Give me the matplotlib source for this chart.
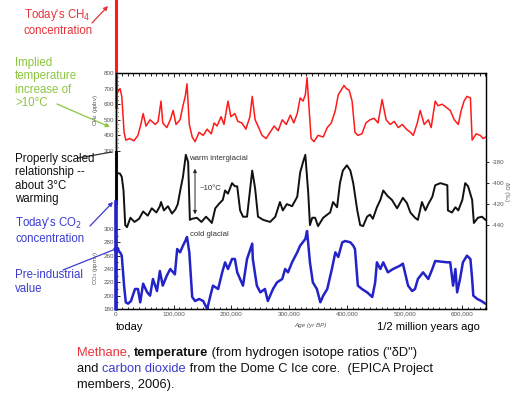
import matplotlib.pyplot as plt
from matplotlib.ticker import FixedLocator, MultipleLocator, FuncFormatter

plt.rcParams['font.family'] = ['Liberation Sans', 'DejaVu Sans']

W, H = 519, 395

# EPICA Dome C, ages in kyr BP
ch4_age = [0, 3, 7, 10, 14, 17, 24, 31, 38, 43, 47, 52, 59, 68, 73, 78, 81, 88, 94, 99,
           104, 111, 116, 120, 123, 127, 132, 137, 144, 151, 158, 165, 170, 175, 182, 187,
           194, 199, 206, 211, 218, 225, 232, 236, 241, 246, 253, 260, 267, 274, 281, 288,
           295, 302, 308, 314, 319, 324, 328, 331, 334, 338, 343, 350, 359, 366, 373, 380,
           385, 390, 395, 399, 404, 409, 414, 419, 426, 433, 440, 447, 454, 461, 468, 475,
           482, 489, 496, 503, 510, 515, 522, 527, 534, 541, 546, 553, 558, 565, 572, 579,
           586, 593, 598, 603, 608, 614, 617, 624, 631, 636, 641]
ch4_ppbv = [690, 680, 700, 650, 420, 370, 380, 365, 400, 470, 540, 460, 500, 470, 490, 620,
            480, 450, 500, 560, 470, 500, 590, 650, 730, 470, 390, 360, 420, 400, 440, 410,
            480, 460, 520, 470, 620, 520, 540, 490, 480, 440, 520, 650, 500, 460, 400, 380,
            420, 460, 430, 500, 470, 530, 480, 540, 640, 620, 660, 770, 600, 380, 360, 400,
            390, 450, 480, 560, 660, 690, 720, 700, 690, 620, 420, 400, 410, 480, 500, 510,
            480, 630, 500, 470, 490, 450, 470, 440, 420, 400, 480, 560, 470, 500, 450, 620,
            590, 600, 580, 560, 500, 470, 560, 620, 650, 640, 370, 410, 400, 380, 390]

dd_age = [0, 7, 10, 13, 16, 19, 25, 32, 40, 47, 55, 62, 70, 76, 78, 83, 90, 97, 103, 107,
          112, 116, 121, 125, 128, 132, 140, 148, 156, 163, 166, 172, 178, 185, 189, 194,
          201, 206, 210, 215, 220, 227, 236, 241, 246, 255, 267, 276, 284, 289, 296, 305,
          314, 319, 324, 328, 333, 336, 340, 345, 350, 359, 366, 371, 376, 383, 388, 393,
          400, 406, 411, 418, 423, 428, 435, 440, 445, 452, 458, 463, 470, 478, 487, 492,
          497, 504, 510, 518, 523, 530, 536, 541, 548, 553, 562, 574, 575, 582, 588, 593,
          600, 605, 610, 617, 620, 627, 634, 640]
dd_permil = [-390, -391, -394, -407, -440, -442, -433, -437, -434, -427, -431, -424, -428,
             -422, -418, -426, -422, -429, -425, -420, -405, -394, -373, -380, -435, -434,
             -433, -437, -432, -436, -438, -424, -420, -416, -407, -410, -400, -403, -403,
             -426, -432, -432, -388, -405, -432, -435, -437, -432, -418, -426, -420, -422,
             -413, -390, -380, -373, -409, -440, -433, -433, -441, -433, -430, -428, -418,
             -423, -400, -388, -383, -388, -400, -426, -440, -441, -432, -430, -434, -423,
             -416, -407, -412, -416, -424, -419, -414, -419, -428, -433, -435, -418, -426,
             -420, -413, -402, -400, -402, -426, -428, -423, -426, -416, -400, -403, -416,
             -438, -433, -432, -435]

co2_age = [0, 3, 7, 10, 14, 17, 21, 26, 29, 33, 38, 42, 47, 54, 59, 64, 71, 76, 81, 88, 94,
           102, 106, 111, 116, 120, 123, 127, 132, 137, 144, 151, 158, 163, 168, 177, 184,
           189, 194, 201, 206, 210, 215, 220, 227, 236, 237, 244, 250, 258, 263, 272, 279,
           288, 293, 298, 305, 314, 319, 328, 331, 336, 341, 348, 354, 359, 366, 374, 380,
           385, 392, 397, 406, 411, 414, 419, 426, 435, 444, 449, 452, 458, 463, 471, 480,
           492, 497, 506, 513, 518, 523, 532, 541, 548, 553, 574, 579, 584, 588, 591, 596,
           601, 608, 614, 617, 619, 626, 633, 640]
co2_ppmv = [270, 268, 265, 260, 215, 190, 188, 192, 200, 210, 210, 190, 218, 205, 200, 225,
            207, 237, 215, 230, 240, 232, 270, 265, 275, 282, 288, 265, 198, 192, 195, 192,
            180, 198, 215, 210, 235, 250, 240, 255, 255, 235, 225, 215, 255, 278, 255, 215,
            205, 210, 192, 210, 220, 225, 240, 235, 250, 265, 275, 285, 297, 250, 220, 210,
            190, 200, 210, 240, 265, 258, 280, 282, 280, 275, 270, 215, 210, 205, 198, 220,
            250, 240, 250, 235, 240, 245, 248, 215, 207, 210, 225, 235, 225, 240, 252, 250,
            250, 215, 240, 205, 225, 250, 260, 255, 225, 200, 195, 192, 188]

# vertical bars drawn at age 0
ch4_today = 1775          # ppbv
ch4_bar_base = 563
dd_implied = (-370, -330)  # green: implied warming
dd_scaled = (-419, -370)   # black: properly scaled warming
co2_today = 340           # ppmv

age_ticks = [0, 100000, 200000, 300000, 400000, 500000, 600000]

RED = '#ff1a1a'
BLACK = '#111111'
BLUE = '#2323c8'
GREEN = '#8cc63f'
TXT_RED = '#e8333a'
TXT_BLUE = '#3b3bd0'
GREY = '#555555'

fig = plt.figure(figsize=(W / 100, H / 100), dpi=100)


def fx(x):
    return x / W


def fy(y):
    return 1 - y / H


x0, x1, y0, y1 = 116, 486, 73, 309
ax = fig.add_axes([fx(x0), fy(y1), (x1 - x0) / W, (y1 - y0) / H])
ax_t = ax.twinx()
ax_c = ax.twinx()

yr = lambda a: [v * 1000 for v in a]
plain = FuncFormatter(lambda v, p: f'{int(v)}')

# methane
ax.plot(yr(ch4_age), ch4_ppbv, color=RED, lw=1.1)
ax.set_xlim(0, 641000)
ax.set_ylim(-713, 800)
ax.set_yticks([300, 400, 500, 600, 700, 800])
ax.yaxis.set_major_formatter(plain)
ax.yaxis.set_minor_locator(FixedLocator(range(300, 801, 25)))
ax.tick_params(axis='y', which='both', direction='in', labelsize=4.5, labelcolor=GREY,
               pad=1.5, width=0.6)
ax.tick_params(axis='y', which='major', length=3)
ax.tick_params(axis='y', which='minor', length=1.5)
ax.set_xticks(age_ticks)
ax.xaxis.set_major_formatter(FuncFormatter(lambda v, p: f'{int(v):,}'))
ax.xaxis.set_minor_locator(MultipleLocator(10000))
ax.tick_params(axis='x', which='both', direction='in', top=True, labelsize=4.5,
               labelcolor=GREY, pad=2, width=0.6)
ax.tick_params(axis='x', which='major', length=3)
ax.tick_params(axis='x', which='minor', length=1.8)
for s in ax.spines.values():
    s.set_linewidth(0.9)
ax.plot([0, 0], [ch4_bar_base, ch4_today], color=RED, lw=2.2, clip_on=False, zorder=5)

# temperature proxy
ax_t.plot(yr(dd_age), dd_permil, color=BLACK, lw=1.4)
ax_t.set_ylim(-520, -295)
ax_t.set_yticks([-440, -420, -400, -380])
ax_t.yaxis.set_major_formatter(plain)
ax_t.tick_params(axis='y', direction='out', length=2.5, width=0.6, labelsize=4.5,
                 labelcolor=GREY, pad=1.5)
ax_t.plot([0, 0], list(dd_implied), color=GREEN, lw=2.2, clip_on=False, zorder=5)
ax_t.plot([0, 0], list(dd_scaled), color=BLACK, lw=2.2, clip_on=False, zorder=5)

# carbon dioxide
ax_c.plot(yr(co2_age), co2_ppmv, color=BLUE, lw=1.8)
ax_c.set_ylim(180, 534)
ax_c.yaxis.tick_left()
ax_c.set_yticks([180, 200, 220, 240, 260, 280, 300])
ax_c.yaxis.set_major_formatter(plain)
ax_c.yaxis.set_minor_locator(FixedLocator(range(190, 300, 20)))
ax_c.tick_params(axis='y', which='both', direction='in', labelsize=4.5, labelcolor=GREY,
                 pad=1.5, width=0.6)
ax_c.tick_params(axis='y', which='major', length=3)
ax_c.tick_params(axis='y', which='minor', length=1.5)
ax_c.plot([0, 0], [180, co2_today], color=BLUE, lw=2.6, clip_on=False, zorder=5)
ax_c.plot([0], [co2_ppmv[0]], 'o', color=BLUE, ms=3.5, clip_on=False, zorder=6)

# axis titles
fig.text(fx(95), fy(110), 'CH$_4$ (ppbv)', rotation=90, ha='center', va='center',
         fontsize=4.3, color=GREY)
fig.text(fx(95), fy(268), 'CO$_2$ (ppmv)', rotation=90, ha='center', va='center',
         fontsize=4.3, color=GREY)
fig.text(fx(507), fy(192), 'δD (‰)', rotation=270, ha='center', va='center',
         fontsize=4.3, color=GREY)
fig.text(fx(310), fy(325), 'Age (yr BP)', ha='center', va='center', fontsize=4.5,
         color=GREY, style='italic')

# interglacial / glacial range
fig.text(fx(189), fy(158), 'warm interglacial', ha='left', va='center', fontsize=5.6,
         color='#333333')
fig.text(fx(190), fy(234), 'cold glacial', ha='left', va='center', fontsize=5.6,
         color='#333333')
fig.text(fx(200), fy(188), '~10°C', ha='left', va='center', fontsize=5.6, color='#333333')
ax.annotate('', xy=(fx(195), fy(166)), xytext=(fx(195), fy(217)),
            xycoords='figure fraction', textcoords='figure fraction',
            arrowprops=dict(arrowstyle='<|-|>', color='#222222', lw=0.7, mutation_scale=5))

# side notes
side = 8.3
fig.text(fx(24), fy(22), "Today's CH$_4$\nconcentration", color=TXT_RED, fontsize=side,
         ha='left', va='center', linespacing=1.15)
fig.text(fx(15), fy(83), 'Implied\ntemperature\nincrease of\n>10°C', color=GREEN,
         fontsize=side, ha='left', va='center', linespacing=1.15)
fig.text(fx(15), fy(179), 'Properly scaled\nrelationship --\nabout 3°C\nwarming',
         color=BLACK, fontsize=side, ha='left', va='center', linespacing=1.15)
fig.text(fx(15), fy(230), "Today's CO$_2$\nconcentration", color=TXT_BLUE, fontsize=side,
         ha='left', va='center', linespacing=1.15)
fig.text(fx(15), fy(282), 'Pre-industrial\nvalue', color=TXT_BLUE, fontsize=side,
         ha='left', va='center', linespacing=1.15)


def pointer(start, end, color, head=True):
    ax.annotate('', xy=(fx(end[0]), fy(end[1])), xytext=(fx(start[0]), fy(start[1])),
                xycoords='figure fraction', textcoords='figure fraction',
                arrowprops=dict(arrowstyle='-|>' if head else '-', color=color, lw=0.9,
                                mutation_scale=6, shrinkA=0, shrinkB=0))


pointer((92, 23), (108, 6), TXT_RED)
pointer((57, 104), (110, 127), GREEN)
pointer((78, 158), (112, 152), '#333333', head=False)
pointer((90, 226), (113, 202), TXT_BLUE)
pointer((63, 270), (113, 250), TXT_BLUE, head=False)

fig.text(fx(130), fy(327), 'today', fontsize=8, ha='center', va='center')
fig.text(fx(428), fy(327), '1/2 million years ago', fontsize=8, ha='center', va='center')

# caption with coloured words
renderer = fig.canvas.get_renderer()


def text_run(x, y, parts, size=9.3):
    for s, color, weight in parts:
        t = fig.text(fx(x), fy(y), s, color=color, fontweight=weight, fontsize=size,
                     ha='left', va='center')
        x += t.get_window_extent(renderer=renderer).width


text_run(77, 353, [('Methane', TXT_RED, 'normal'), (', ', BLACK, 'normal'),
                   ('temperature', BLACK, 'bold'),
                   (' (from hydrogen isotope ratios ("δD")', BLACK, 'normal')])
text_run(77, 369, [('and ', BLACK, 'normal'), ('carbon dioxide', TXT_BLUE, 'normal'),
                   (' from the Dome C Ice core.  (EPICA Project', BLACK, 'normal')])
text_run(77, 385, [('members, 2006).', BLACK, 'normal')])

fig.savefig('out.png', dpi=100)
